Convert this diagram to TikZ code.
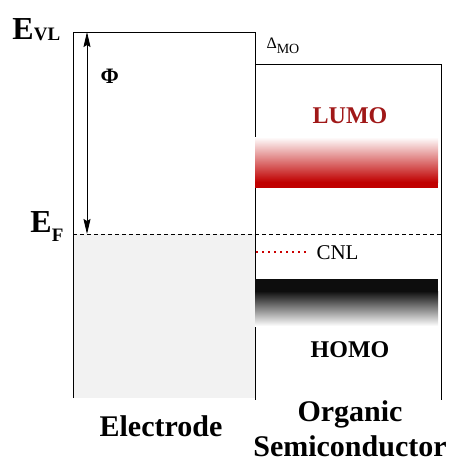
\documentclass[tikz,border=0pt]{standalone}
\usepackage{fontspec}
\setmainfont{Liberation Serif}
\usetikzlibrary{arrows.meta}

\definecolor{lumored}{HTML}{C00000}
\definecolor{lumotext}{HTML}{A01818}
\definecolor{metalgray}{HTML}{F2F2F2}
\definecolor{homoblack}{HTML}{0D0D0D}

\tikzset{
    levelname/.style={inner sep=0pt, anchor=base, font=\bfseries\fontsize{24}{24}\selectfont},
    bigname/.style={inner sep=0pt, anchor=base, font=\bfseries\fontsize{30}{30}\selectfont},
    energy/.style={inner sep=0pt, anchor=base west, font=\bfseries\fontsize{32}{32}\selectfont},
}

\begin{document}
\begin{tikzpicture}[x=1pt, y=-1pt, line width=1pt]
    \useasboundingbox (0, 0) rectangle (452, 463);

    % Electrode: filled up to the Fermi level
    \fill[metalgray] (73, 234) rectangle (255, 398);
    \draw (73, 398) -- (73, 32) -- (255, 32) -- (255, 400);

    % Organic semiconductor box, lowered by Delta
    \draw (255, 64) -- (441, 64) -- (441, 400);

    % LUMO band
    \shade[top color=white, middle color=lumored!45, bottom color=lumored] (255, 137) rectangle (438, 182);
    \fill[lumored] (255, 182) rectangle (438, 188);
    \node[levelname, text=lumotext] (lumo) at (350, 123) {LUMO};

    % HOMO band
    \fill[homoblack] (255, 279) rectangle (438, 291);
    \shade[top color=homoblack, bottom color=white] (255, 291) rectangle (438, 326);
    \node[levelname] (homo) at (350, 357) {HOMO};

    % Fermi level across both sides
    \draw[dash pattern=on 4pt off 3pt, line width=0.8pt] (73, 234) -- (441, 234);

    % Charge neutrality level
    \draw[red!80!black, line width=2pt, dash pattern=on 2pt off 4pt] (256, 252) -- (306, 252);
    \node[inner sep=0pt, anchor=base west, font=\fontsize{21}{21}\selectfont] (cnl) at (316, 259) {CNL};

    % Work function arrow
    \coordinate (vltop) at (87, 32);
    \coordinate (eftop) at (87, 234);
    \draw[{Stealth[length=15pt, width=7pt, inset=2pt]}-{Stealth[length=15pt, width=7pt, inset=2pt]}, line width=0.8pt] (vltop) -- (eftop);
    \node[inner sep=0pt, anchor=base west, font=\bfseries\fontsize{22}{22}\selectfont] (phi) at (100, 83) {Φ};

    % Energy labels
    \node[energy] (evl) at (12, 39) {E\raisebox{-1pt}{\fontsize{19}{19}\selectfont VL}};
    \node[energy] (ef) at (30, 232) {E\raisebox{-9pt}{\fontsize{19}{19}\selectfont F}};
    \node[inner sep=0pt, anchor=base west, font=\fontsize{16}{16}\selectfont] (dmo) at (266, 48) {Δ\raisebox{-5pt}{\fontsize{14}{14}\selectfont MO}};

    % Side names
    \node[bigname] (electrode) at (161, 436) {Electrode};
    \node[bigname] (organic) at (350, 421) {Organic};
    \node[bigname] (semi) at (350, 456) {Semiconductor};
\end{tikzpicture}
\end{document}
